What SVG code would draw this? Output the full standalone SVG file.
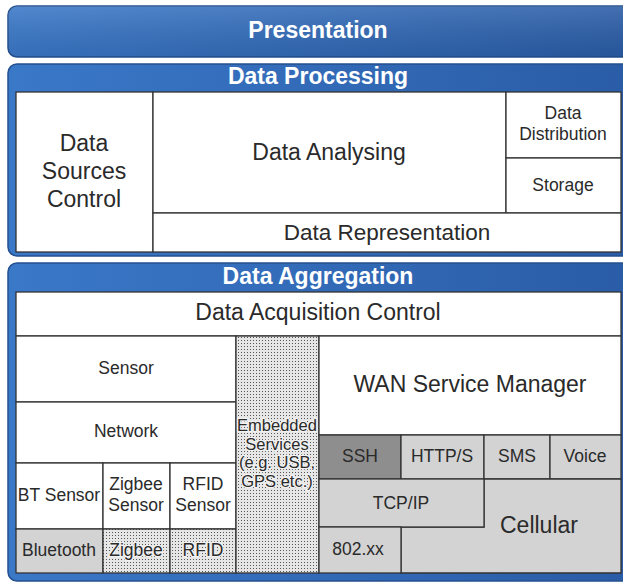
<svg xmlns="http://www.w3.org/2000/svg" width="623" height="583" viewBox="0 0 623 583">
<defs>
<linearGradient id="blue" x1="0" y1="0" x2="1" y2="0">
<stop offset="0" stop-color="#3a78c8"/>
<stop offset="1" stop-color="#2a5ca6"/>
</linearGradient>
<linearGradient id="shine" x1="0" y1="0" x2="0" y2="1">
<stop offset="0" stop-color="#ffffff" stop-opacity="0.12"/>
<stop offset="1" stop-color="#000000" stop-opacity="0.08"/>
</linearGradient>
<pattern id="dots" width="3" height="3" patternUnits="userSpaceOnUse">
<rect width="3" height="3" fill="#e6e6e6"/>
<rect x="1" y="1" width="1" height="1" fill="#555"/>
</pattern>
<style>
.panel{fill:url(#blue);stroke:#24508f;stroke-width:1.5}
.title{font-family:"Liberation Sans",Arial,sans-serif;font-weight:bold;fill:#fff;text-anchor:middle;font-size:23px}
.box{fill:#fff;stroke:#333;stroke-width:1.3}
.gray{fill:#d3d3d3;stroke:#333;stroke-width:1.3}
.dark{fill:#8e8e8e;stroke:#333;stroke-width:1.3}
.dot{fill:url(#dots);stroke:#333;stroke-width:1.3}
text.l{font-family:"Liberation Sans",Arial,sans-serif;fill:#2a2a2a;text-anchor:middle}
.big{font-size:23px}
.mid{font-size:22.5px}
.sm{font-size:17.5px}
.halo{stroke:#f2f2f2;stroke-width:2.5px;paint-order:stroke;font-size:16.5px}
</style>
</defs>

<g id="presentation">
<rect class="panel" x="8" y="6" width="630" height="51" rx="9"/>
<rect x="8" y="6" width="630" height="51" rx="9" fill="url(#shine)"/>
<text class="title" x="318" y="38">Presentation</text>
</g>

<g id="data-processing">
<rect class="panel" x="8" y="64" width="630" height="192" rx="9"/>
<text class="title" x="318" y="84">Data Processing</text>
<g id="data-sources-control">
<rect class="box" x="16" y="92" width="137" height="160"/>
<text class="l big" x="84" y="151">Data</text>
<text class="l big" x="84" y="179">Sources</text>
<text class="l big" x="84" y="207">Control</text>
</g>
<g id="data-analysing">
<rect class="box" x="153" y="92" width="353" height="121"/>
<text class="l big" x="329" y="160">Data Analysing</text>
</g>
<g id="data-distribution">
<rect class="box" x="506" y="92" width="115" height="66"/>
<text class="l sm" x="563" y="119">Data</text>
<text class="l sm" x="563" y="140">Distribution</text>
</g>
<g id="storage">
<rect class="box" x="506" y="158" width="115" height="55"/>
<text class="l sm" x="563" y="191">Storage</text>
</g>
<g id="data-representation">
<rect class="box" x="153" y="213" width="468" height="39"/>
<text class="l mid" x="387" y="240">Data Representation</text>
</g>
</g>

<g id="data-aggregation">
<rect class="panel" x="8" y="263" width="630" height="318" rx="9"/>
<text class="title" x="318" y="284">Data Aggregation</text>
<g id="data-acquisition-control">
<rect class="box" x="16" y="292" width="605" height="44"/>
<text class="l big" x="318" y="320">Data Acquisition Control</text>
</g>
<g id="sensor">
<rect class="box" x="16" y="336" width="220" height="66"/>
<text class="l sm" x="126" y="374">Sensor</text>
</g>
<g id="network">
<rect class="box" x="16" y="402" width="220" height="61"/>
<text class="l sm" x="126" y="437">Network</text>
</g>
<g id="bt-sensor">
<rect class="box" x="16" y="463" width="87" height="66"/>
<text class="l sm" x="59" y="501">BT Sensor</text>
</g>
<g id="zigbee-sensor">
<rect class="box" x="103" y="463" width="67" height="66"/>
<text class="l sm" x="136" y="490">Zigbee</text>
<text class="l sm" x="136" y="511">Sensor</text>
</g>
<g id="rfid-sensor">
<rect class="box" x="170" y="463" width="66" height="66"/>
<text class="l sm" x="203" y="490">RFID</text>
<text class="l sm" x="203" y="511">Sensor</text>
</g>
<g id="bluetooth">
<rect class="gray" x="16" y="529" width="87" height="44"/>
<text class="l sm" x="59" y="556">Bluetooth</text>
</g>
<g id="zigbee">
<rect class="dot" x="103" y="529" width="67" height="44"/>
<text class="l halo" x="136" y="556" style="font-size:17.5px">Zigbee</text>
</g>
<g id="rfid">
<rect class="dot" x="170" y="529" width="66" height="44"/>
<text class="l halo" x="203" y="556" style="font-size:17.5px">RFID</text>
</g>
<g id="embedded-services">
<rect class="dot" x="236" y="336" width="83" height="237"/>
<text class="l halo" x="277" y="431">Embedded</text>
<text class="l halo" x="277" y="450">Services</text>
<text class="l halo" x="277" y="468">(e.g. USB,</text>
<text class="l halo" x="277" y="487">GPS etc.)</text>
</g>
<g id="wan-service-manager">
<rect class="box" x="319" y="336" width="302" height="99"/>
<text class="l big" x="470" y="392">WAN Service Manager</text>
</g>
<g id="ssh">
<rect class="dark" x="319" y="435" width="82" height="44"/>
<text class="l sm" x="360" y="462">SSH</text>
</g>
<g id="https">
<rect class="gray" x="401" y="435" width="83" height="44"/>
<text class="l sm" x="442" y="462">HTTP/S</text>
</g>
<g id="sms">
<rect class="gray" x="484" y="435" width="66" height="44"/>
<text class="l sm" x="517" y="462">SMS</text>
</g>
<g id="voice">
<rect class="gray" x="550" y="435" width="71" height="44"/>
<text class="l sm" x="585" y="462">Voice</text>
</g>
<g id="cellular">
<path class="gray" d="M484 479 H621 V573 H401 V527 H484 Z"/>
<text class="l big" x="539" y="533">Cellular</text>
</g>
<g id="tcp-ip">
<rect class="gray" x="319" y="479" width="165" height="48"/>
<text class="l sm" x="401" y="509">TCP/IP</text>
</g>
<g id="802xx">
<rect class="gray" x="319" y="527" width="82" height="46"/>
<text class="l sm" x="358" y="555">802.xx</text>
</g>
</g>
<g id="connectors"/>
</svg>
